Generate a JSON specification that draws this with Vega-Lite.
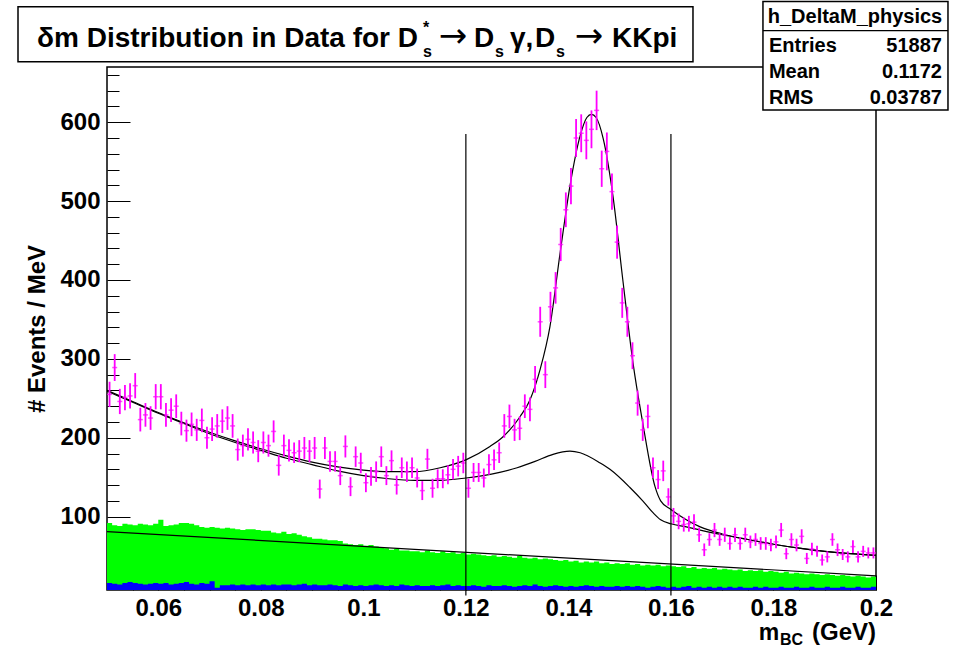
{
"$schema": "https://vega.github.io/schema/vega-lite/v6.json",
"width": 769, "height": 523,
"autosize": {"type": "none"},
"padding": {"left": 107, "top": 67, "right": 87, "bottom": 57},
"background": "white",
"config": {
  "view": {"stroke": "#000", "strokeWidth": 1.5},
  "axis": {"grid": false, "domain": false, "zindex": 1, "labelFont": "Liberation Sans", "labelFontWeight": "bold", "labelFontSize": 24, "labelColor": "#000", "tickColor": "#000", "tickWidth": 1, "titleFont": "Liberation Sans", "titleFontWeight": "bold", "titleFontSize": 24, "titleColor": "#000"},
  "text": {"font": "Liberation Sans", "fontWeight": "bold", "color": "#000"}
},
"datasets": {
  "one": [{}],
  "pts": [
{"x":0.0505,"v":255,"e":16},{"x":0.0515,"v":289,"e":17},{"x":0.0525,"v":246,"e":16},{"x":0.0535,"v":251,"e":16},{"x":0.0545,"v":253,"e":16},{"x":0.0555,"v":266,"e":16},{"x":0.0565,"v":223,"e":15},{"x":0.0575,"v":229,"e":15},{"x":0.0585,"v":225,"e":15},{"x":0.0595,"v":252,"e":16},
{"x":0.0605,"v":252,"e":16},{"x":0.0615,"v":229,"e":15},{"x":0.0625,"v":235,"e":15},{"x":0.0635,"v":240,"e":15},{"x":0.0645,"v":218,"e":15},{"x":0.0655,"v":209,"e":14},{"x":0.0665,"v":217,"e":15},{"x":0.0675,"v":210,"e":14},{"x":0.0685,"v":222,"e":15},{"x":0.0695,"v":200,"e":14},
{"x":0.0705,"v":211,"e":15},{"x":0.0715,"v":215,"e":15},{"x":0.0725,"v":221,"e":15},{"x":0.0735,"v":225,"e":15},{"x":0.0745,"v":215,"e":15},{"x":0.0755,"v":185,"e":14},{"x":0.0765,"v":190,"e":14},{"x":0.0775,"v":198,"e":14},{"x":0.0785,"v":194,"e":14},{"x":0.0795,"v":183,"e":14},
{"x":0.0805,"v":194,"e":14},{"x":0.0815,"v":190,"e":14},{"x":0.0825,"v":208,"e":14},{"x":0.0835,"v":165,"e":13},{"x":0.0845,"v":190,"e":14},{"x":0.0855,"v":184,"e":14},{"x":0.0865,"v":181,"e":13},{"x":0.0875,"v":183,"e":14},{"x":0.0885,"v":187,"e":14},{"x":0.0895,"v":183,"e":14},
{"x":0.0905,"v":187,"e":14},{"x":0.0915,"v":135,"e":12},{"x":0.0925,"v":187,"e":14},{"x":0.0935,"v":170,"e":13},{"x":0.0945,"v":170,"e":13},{"x":0.0955,"v":152,"e":12},{"x":0.0965,"v":189,"e":14},{"x":0.0975,"v":138,"e":12},{"x":0.0985,"v":176,"e":13},{"x":0.0995,"v":168,"e":13},
{"x":0.1005,"v":143,"e":12},{"x":0.1015,"v":151,"e":12},{"x":0.1025,"v":157,"e":13},{"x":0.1035,"v":176,"e":13},{"x":0.1045,"v":152,"e":12},{"x":0.1055,"v":171,"e":13},{"x":0.1065,"v":140,"e":12},{"x":0.1075,"v":162,"e":13},{"x":0.1085,"v":157,"e":13},{"x":0.1095,"v":162,"e":13},
{"x":0.1105,"v":149,"e":12},{"x":0.1115,"v":133,"e":12},{"x":0.1125,"v":173,"e":13},{"x":0.1135,"v":136,"e":12},{"x":0.1145,"v":148,"e":12},{"x":0.1155,"v":148,"e":12},{"x":0.1165,"v":153,"e":12},{"x":0.1175,"v":160,"e":13},{"x":0.1185,"v":164,"e":13},{"x":0.1195,"v":168,"e":13},
{"x":0.1205,"v":136,"e":12},{"x":0.1215,"v":156,"e":12},{"x":0.1225,"v":156,"e":12},{"x":0.1235,"v":149,"e":12},{"x":0.1245,"v":166,"e":13},{"x":0.1255,"v":172,"e":13},{"x":0.1265,"v":181,"e":13},{"x":0.1275,"v":215,"e":15},{"x":0.1285,"v":227,"e":15},{"x":0.1295,"v":210,"e":14},
{"x":0.1305,"v":212,"e":15},{"x":0.1315,"v":240,"e":15},{"x":0.1325,"v":236,"e":15},{"x":0.1335,"v":274,"e":17},{"x":0.1345,"v":347,"e":19},{"x":0.1355,"v":280,"e":17},{"x":0.1365,"v":366,"e":19},{"x":0.1375,"v":390,"e":20},{"x":0.1385,"v":445,"e":21},{"x":0.1395,"v":489,"e":22},
{"x":0.1405,"v":519,"e":23},{"x":0.1415,"v":580,"e":24},{"x":0.1425,"v":586,"e":24},{"x":0.1435,"v":577,"e":24},{"x":0.1445,"v":591,"e":24},{"x":0.1455,"v":615,"e":25},{"x":0.1465,"v":541,"e":23},{"x":0.1475,"v":563,"e":24},{"x":0.1485,"v":512,"e":23},{"x":0.1495,"v":448,"e":21},
{"x":0.1505,"v":371,"e":19},{"x":0.1515,"v":347,"e":19},{"x":0.1525,"v":304,"e":17},{"x":0.1535,"v":244,"e":16},{"x":0.1545,"v":210,"e":14},{"x":0.1555,"v":227,"e":15},{"x":0.1565,"v":162,"e":13},{"x":0.1575,"v":147,"e":12},{"x":0.1585,"v":158,"e":13},{"x":0.1595,"v":125,"e":11},
{"x":0.1605,"v":101,"e":10},{"x":0.1615,"v":94,"e":10},{"x":0.1625,"v":90,"e":9},{"x":0.1635,"v":91,"e":10},{"x":0.1645,"v":93,"e":10},{"x":0.1655,"v":77,"e":9},{"x":0.1665,"v":58,"e":8},{"x":0.1675,"v":71,"e":8},{"x":0.1685,"v":83,"e":9},{"x":0.1695,"v":71,"e":8},
{"x":0.1705,"v":77,"e":9},{"x":0.1715,"v":66,"e":8},{"x":0.1725,"v":77,"e":9},{"x":0.1735,"v":66,"e":8},{"x":0.1745,"v":77,"e":9},{"x":0.1755,"v":68,"e":8},{"x":0.1765,"v":71,"e":8},{"x":0.1775,"v":66,"e":8},{"x":0.1785,"v":66,"e":8},{"x":0.1795,"v":64,"e":8},
{"x":0.1805,"v":68,"e":8},{"x":0.1815,"v":83,"e":9},{"x":0.1825,"v":53,"e":7},{"x":0.1835,"v":71,"e":8},{"x":0.1845,"v":64,"e":8},{"x":0.1855,"v":75,"e":9},{"x":0.1865,"v":47,"e":7},{"x":0.1875,"v":59,"e":8},{"x":0.1885,"v":56,"e":7},{"x":0.1895,"v":45,"e":7},
{"x":0.1905,"v":49,"e":7},{"x":0.1915,"v":71,"e":8},{"x":0.1925,"v":58,"e":8},{"x":0.1935,"v":52,"e":7},{"x":0.1945,"v":49,"e":7},{"x":0.1955,"v":62,"e":8},{"x":0.1965,"v":49,"e":7},{"x":0.1975,"v":56,"e":7},{"x":0.1985,"v":54,"e":7},{"x":0.1995,"v":54,"e":7}
  ],
  "hist": [
{"x":0.050,"g":92,"b":16},{"x":0.051,"g":89,"b":15},{"x":0.052,"g":88,"b":14},{"x":0.053,"g":91,"b":16},{"x":0.054,"g":90,"b":17},{"x":0.055,"g":89,"b":16},{"x":0.056,"g":91,"b":15},{"x":0.057,"g":90,"b":14},{"x":0.058,"g":89,"b":15},{"x":0.059,"g":91,"b":16},
{"x":0.060,"g":96,"b":15},{"x":0.061,"g":88,"b":16},{"x":0.062,"g":89,"b":14},{"x":0.063,"g":90,"b":15},{"x":0.064,"g":92,"b":16},{"x":0.065,"g":92,"b":17},{"x":0.066,"g":91,"b":15},{"x":0.067,"g":89,"b":14},{"x":0.068,"g":87,"b":16},{"x":0.069,"g":86,"b":15},
{"x":0.070,"g":87,"b":18},{"x":0.071,"g":86,"b":10},{"x":0.072,"g":85,"b":13},{"x":0.073,"g":86,"b":13},{"x":0.074,"g":85,"b":14},{"x":0.075,"g":84,"b":13},{"x":0.076,"g":83,"b":14},{"x":0.077,"g":84,"b":13},{"x":0.078,"g":84,"b":14},{"x":0.079,"g":83,"b":13},
{"x":0.080,"g":82,"b":14},{"x":0.081,"g":82,"b":13},{"x":0.082,"g":80,"b":14},{"x":0.083,"g":79,"b":13},{"x":0.084,"g":81,"b":14},{"x":0.085,"g":78,"b":14},{"x":0.086,"g":79,"b":13},{"x":0.087,"g":77,"b":14},{"x":0.088,"g":75,"b":15},{"x":0.089,"g":74,"b":13},
{"x":0.090,"g":72,"b":14},{"x":0.091,"g":72,"b":13},{"x":0.092,"g":71,"b":13},{"x":0.093,"g":70,"b":14},{"x":0.094,"g":70,"b":13},{"x":0.095,"g":69,"b":12},{"x":0.096,"g":66,"b":14},{"x":0.097,"g":65,"b":13},{"x":0.098,"g":64,"b":12},{"x":0.099,"g":65,"b":13},
{"x":0.100,"g":63,"b":12},{"x":0.101,"g":64,"b":13},{"x":0.102,"g":62,"b":14},{"x":0.103,"g":61,"b":13},{"x":0.104,"g":60,"b":12},{"x":0.105,"g":58,"b":13},{"x":0.106,"g":59,"b":12},{"x":0.107,"g":57,"b":14},{"x":0.108,"g":57,"b":13},{"x":0.109,"g":56,"b":12},
{"x":0.110,"g":56,"b":13},{"x":0.111,"g":55,"b":12},{"x":0.112,"g":57,"b":12},{"x":0.113,"g":55,"b":13},{"x":0.114,"g":54,"b":12},{"x":0.115,"g":56,"b":13},{"x":0.116,"g":54,"b":14},{"x":0.117,"g":55,"b":12},{"x":0.118,"g":53,"b":13},{"x":0.119,"g":54,"b":12},
{"x":0.120,"g":52,"b":12},{"x":0.121,"g":53,"b":13},{"x":0.122,"g":52,"b":12},{"x":0.123,"g":51,"b":11},{"x":0.124,"g":50,"b":13},{"x":0.125,"g":51,"b":12},{"x":0.126,"g":49,"b":12},{"x":0.127,"g":50,"b":13},{"x":0.128,"g":49,"b":12},{"x":0.129,"g":48,"b":11},
{"x":0.130,"g":50,"b":12},{"x":0.131,"g":48,"b":13},{"x":0.132,"g":47,"b":12},{"x":0.133,"g":48,"b":14},{"x":0.134,"g":46,"b":12},{"x":0.135,"g":47,"b":11},{"x":0.136,"g":46,"b":12},{"x":0.137,"g":45,"b":13},{"x":0.138,"g":44,"b":12},{"x":0.139,"g":45,"b":11},
{"x":0.140,"g":43,"b":12},{"x":0.141,"g":44,"b":11},{"x":0.142,"g":42,"b":12},{"x":0.143,"g":43,"b":13},{"x":0.144,"g":42,"b":12},{"x":0.145,"g":43,"b":11},{"x":0.146,"g":41,"b":12},{"x":0.147,"g":42,"b":11},{"x":0.148,"g":40,"b":11},{"x":0.149,"g":41,"b":12},
{"x":0.150,"g":40,"b":11},{"x":0.151,"g":41,"b":12},{"x":0.152,"g":39,"b":11},{"x":0.153,"g":40,"b":12},{"x":0.154,"g":38,"b":11},{"x":0.155,"g":39,"b":10},{"x":0.156,"g":38,"b":11},{"x":0.157,"g":39,"b":12},{"x":0.158,"g":37,"b":11},{"x":0.159,"g":38,"b":10},
{"x":0.160,"g":37,"b":11},{"x":0.161,"g":36,"b":10},{"x":0.162,"g":37,"b":11},{"x":0.163,"g":35,"b":12},{"x":0.164,"g":36,"b":10},{"x":0.165,"g":34,"b":11},{"x":0.166,"g":35,"b":10},{"x":0.167,"g":34,"b":11},{"x":0.168,"g":35,"b":10},{"x":0.169,"g":33,"b":11},
{"x":0.170,"g":34,"b":10},{"x":0.171,"g":33,"b":11},{"x":0.172,"g":32,"b":10},{"x":0.173,"g":33,"b":11},{"x":0.174,"g":31,"b":10},{"x":0.175,"g":32,"b":10},{"x":0.176,"g":31,"b":11},{"x":0.177,"g":32,"b":10},{"x":0.178,"g":30,"b":11},{"x":0.179,"g":31,"b":10},
{"x":0.180,"g":30,"b":10},{"x":0.181,"g":29,"b":11},{"x":0.182,"g":30,"b":10},{"x":0.183,"g":28,"b":10},{"x":0.184,"g":29,"b":11},{"x":0.185,"g":28,"b":10},{"x":0.186,"g":27,"b":10},{"x":0.187,"g":28,"b":11},{"x":0.188,"g":27,"b":10},{"x":0.189,"g":26,"b":10},
{"x":0.190,"g":27,"b":11},{"x":0.191,"g":26,"b":10},{"x":0.192,"g":25,"b":10},{"x":0.193,"g":26,"b":11},{"x":0.194,"g":25,"b":10},{"x":0.195,"g":24,"b":10},{"x":0.196,"g":25,"b":11},{"x":0.197,"g":24,"b":10},{"x":0.198,"g":23,"b":10},{"x":0.199,"g":24,"b":11},
{"x":0.200,"g":24,"b":11}
  ],
  "fits": [
{"c":"total","x":0.05,"y":260},{"c":"total","x":0.055,"y":246},{"c":"total","x":0.06,"y":232},{"c":"total","x":0.065,"y":219},{"c":"total","x":0.07,"y":207},{"c":"total","x":0.075,"y":196},{"c":"total","x":0.08,"y":186},{"c":"total","x":0.085,"y":177},{"c":"total","x":0.09,"y":169},{"c":"total","x":0.095,"y":163},{"c":"total","x":0.1,"y":159},{"c":"total","x":0.105,"y":157},{"c":"total","x":0.11,"y":157},{"c":"total","x":0.115,"y":162},{"c":"total","x":0.12,"y":172},{"c":"total","x":0.1247,"y":189},{"c":"total","x":0.1272,"y":201},{"c":"total","x":0.1306,"y":227},{"c":"total","x":0.1325,"y":248},{"c":"total","x":0.1345,"y":287},{"c":"total","x":0.1364,"y":341},{"c":"total","x":0.1384,"y":435},{"c":"total","x":0.1403,"y":519},{"c":"total","x":0.1423,"y":583},{"c":"total","x":0.1436,"y":606},{"c":"total","x":0.1445,"y":610},{"c":"total","x":0.1454,"y":606},{"c":"total","x":0.1468,"y":579},{"c":"total","x":0.1487,"y":506},{"c":"total","x":0.1506,"y":401},{"c":"total","x":0.1526,"y":295},{"c":"total","x":0.1545,"y":219},{"c":"total","x":0.1569,"y":138},{"c":"total","x":0.158,"y":120},{"c":"total","x":0.16,"y":109},{"c":"total","x":0.163,"y":96},{"c":"total","x":0.1657,"y":87},{"c":"total","x":0.17,"y":78},{"c":"total","x":0.175,"y":71},{"c":"total","x":0.18,"y":65},{"c":"total","x":0.185,"y":60},{"c":"total","x":0.19,"y":56},{"c":"total","x":0.195,"y":53},{"c":"total","x":0.2,"y":51},
{"c":"bg","x":0.05,"y":259},{"c":"bg","x":0.055,"y":245},{"c":"bg","x":0.06,"y":231},{"c":"bg","x":0.065,"y":218},{"c":"bg","x":0.07,"y":205},{"c":"bg","x":0.075,"y":194},{"c":"bg","x":0.08,"y":184},{"c":"bg","x":0.085,"y":174},{"c":"bg","x":0.09,"y":166},{"c":"bg","x":0.095,"y":158},{"c":"bg","x":0.1,"y":152},{"c":"bg","x":0.105,"y":148},{"c":"bg","x":0.11,"y":146},{"c":"bg","x":0.115,"y":146},{"c":"bg","x":0.12,"y":149},{"c":"bg","x":0.125,"y":154},{"c":"bg","x":0.13,"y":162},{"c":"bg","x":0.1335,"y":170},{"c":"bg","x":0.137,"y":179},{"c":"bg","x":0.1403,"y":183},{"c":"bg","x":0.1423,"y":181},{"c":"bg","x":0.1462,"y":168},{"c":"bg","x":0.1481,"y":160},{"c":"bg","x":0.152,"y":137},{"c":"bg","x":0.1545,"y":120},{"c":"bg","x":0.1565,"y":105},{"c":"bg","x":0.158,"y":96},{"c":"bg","x":0.16,"y":91},{"c":"bg","x":0.163,"y":87},{"c":"bg","x":0.1657,"y":83},{"c":"bg","x":0.17,"y":77},{"c":"bg","x":0.175,"y":71},{"c":"bg","x":0.18,"y":65},{"c":"bg","x":0.185,"y":60},{"c":"bg","x":0.19,"y":56},{"c":"bg","x":0.195,"y":53},{"c":"bg","x":0.2,"y":51},
{"c":"lin","x":0.05,"y":81},{"c":"lin","x":0.2,"y":25}
  ],
  "vlines": [{"x":0.12,"y0":0,"y1":585},{"x":0.16,"y0":0,"y1":585}]
},
"resolve": {"axis": {"x": "independent", "y": "independent"}},
"layer": [
  {"data": {"name": "hist"}, "mark": {"type": "area", "interpolate": "step-after", "color": "#00ff00", "clip": true},
   "encoding": {
     "x": {"field": "x", "type": "quantitative", "scale": {"domain": [0.05, 0.2], "nice": false, "zero": false},
           "axis": {"orient": "bottom", "values": [0.06,0.08,0.1,0.12,0.14,0.16,0.18,0.2], "format": "~g", "ticks": false, "labelPadding": 6, "labelFlush": false, "title": null}},
     "y": {"field": "g", "type": "quantitative", "scale": {"domain": [7, 670], "nice": false, "zero": false},
           "axis": {"orient": "left", "values": [100,200,300,400,500,600], "ticks": false, "labelPadding": 7, "labelFlush": false, "title": "# Events / MeV", "titlePadding": 10}},
     "y2": {"datum": 0}
   }},
  {"data": {"name": "hist"}, "mark": {"type": "area", "interpolate": "step-after", "color": "#0000ff", "clip": true},
   "encoding": {
     "x": {"field": "x", "type": "quantitative", "axis": {"orient": "bottom", "values": [0.06,0.08,0.1,0.12,0.14,0.16,0.18,0.2], "labels": false, "tickSize": -15, "title": null}},
     "y": {"field": "b", "type": "quantitative", "axis": {"orient": "left", "values": [100,200,300,400,500,600], "labels": false, "tickSize": -23, "title": null}},
     "y2": {"datum": 0}
   }},
  {"data": {"name": "fits"}, "mark": {"type": "line", "color": "#000", "strokeWidth": 1.2, "interpolate": "monotone", "clip": true},
   "encoding": {
     "x": {"field": "x", "type": "quantitative", "axis": {"orient": "bottom", "values": [0.055,0.065,0.07,0.075,0.085,0.09,0.095,0.105,0.11,0.115,0.125,0.13,0.135,0.145,0.15,0.155,0.165,0.17,0.175,0.185,0.19,0.195], "labels": false, "tickSize": -8, "title": null}},
     "y": {"field": "y", "type": "quantitative", "axis": {"orient": "left", "values": [20,40,60,80,120,140,160,180,220,240,260,280,320,340,360,380,420,440,460,480,520,540,560,580,620,640,660], "labels": false, "tickSize": -12, "title": null}},
     "detail": {"field": "c"}
   }},
  {"data": {"name": "pts"}, "mark": {"type": "errorbar", "color": "#ff00ff", "thickness": 1.8},
   "encoding": {
     "x": {"field": "x", "type": "quantitative", "axis": null},
     "y": {"field": "v", "type": "quantitative", "axis": null},
     "yError": {"field": "e"}
   }},
  {"data": {"name": "pts"}, "mark": {"type": "tick", "orient": "horizontal", "color": "#ff00ff", "size": 5, "thickness": 1.5},
   "encoding": {
     "x": {"field": "x", "type": "quantitative", "axis": null},
     "y": {"field": "v", "type": "quantitative", "axis": null}
   }},
  {"data": {"name": "vlines"}, "mark": {"type": "rule", "color": "#000", "strokeWidth": 1.2},
   "encoding": {
     "x": {"field": "x", "type": "quantitative", "axis": null},
     "y": {"field": "y0", "type": "quantitative", "axis": null},
     "y2": {"field": "y1"}
   }},
  {"data": {"name": "one"}, "mark": {"type": "rect", "fill": "white", "stroke": "#000", "strokeWidth": 1.5},
   "encoding": {"x": {"datum": 0.03264, "type": "quantitative", "axis": null}, "x2": {"datum": 0.1643}, "y": {"datum": 746.5, "type": "quantitative", "axis": null}, "y2": {"datum": 676.6}}},
  {"data": {"name": "one"}, "mark": {"type": "text", "align": "left", "baseline": "alphabetic", "fontSize": 28},
   "encoding": {"x": {"datum": 0.036347, "type": "quantitative", "axis": null}, "y": {"datum": 695.7, "type": "quantitative", "axis": null}, "text": {"value": "δm Distribution in Data for D"}}},
  {"data": {"name": "one"}, "mark": {"type": "text", "align": "left", "baseline": "alphabetic", "fontSize": 16},
   "encoding": {"x": {"datum": 0.111635, "type": "quantitative", "axis": null}, "y": {"datum": 713.5, "type": "quantitative", "axis": null}, "text": {"value": "*"}}},
  {"data": {"name": "one"}, "mark": {"type": "text", "align": "left", "baseline": "alphabetic", "fontSize": 16},
   "encoding": {"x": {"datum": 0.111635, "type": "quantitative", "axis": null}, "y": {"datum": 683.0, "type": "quantitative", "axis": null}, "text": {"value": "s"}}},
  {"data": {"name": "one"}, "mark": {"type": "text", "align": "center", "baseline": "alphabetic", "fontSize": 34, "font": "DejaVu Sans", "fontWeight": "normal"},
   "encoding": {"x": {"datum": 0.117487, "type": "quantitative", "axis": null}, "y": {"datum": 695.7, "type": "quantitative", "axis": null}, "text": {"value": "→"}}},
  {"data": {"name": "one"}, "mark": {"type": "text", "align": "left", "baseline": "alphabetic", "fontSize": 28},
   "encoding": {"x": {"datum": 0.121583, "type": "quantitative", "axis": null}, "y": {"datum": 695.7, "type": "quantitative", "axis": null}, "text": {"value": "D"}}},
  {"data": {"name": "one"}, "mark": {"type": "text", "align": "left", "baseline": "alphabetic", "fontSize": 16},
   "encoding": {"x": {"datum": 0.125678, "type": "quantitative", "axis": null}, "y": {"datum": 683.0, "type": "quantitative", "axis": null}, "text": {"value": "s"}}},
  {"data": {"name": "one"}, "mark": {"type": "text", "align": "left", "baseline": "alphabetic", "fontSize": 28},
   "encoding": {"x": {"datum": 0.128604, "type": "quantitative", "axis": null}, "y": {"datum": 695.7, "type": "quantitative", "axis": null}, "text": {"value": "γ,"}}},
  {"data": {"name": "one"}, "mark": {"type": "text", "align": "left", "baseline": "alphabetic", "fontSize": 28},
   "encoding": {"x": {"datum": 0.13348, "type": "quantitative", "axis": null}, "y": {"datum": 695.7, "type": "quantitative", "axis": null}, "text": {"value": "D"}}},
  {"data": {"name": "one"}, "mark": {"type": "text", "align": "left", "baseline": "alphabetic", "fontSize": 16},
   "encoding": {"x": {"datum": 0.137576, "type": "quantitative", "axis": null}, "y": {"datum": 683.0, "type": "quantitative", "axis": null}, "text": {"value": "s"}}},
  {"data": {"name": "one"}, "mark": {"type": "text", "align": "center", "baseline": "alphabetic", "fontSize": 34, "font": "DejaVu Sans", "fontWeight": "normal"},
   "encoding": {"x": {"datum": 0.144013, "type": "quantitative", "axis": null}, "y": {"datum": 695.7, "type": "quantitative", "axis": null}, "text": {"value": "→"}}},
  {"data": {"name": "one"}, "mark": {"type": "text", "align": "left", "baseline": "alphabetic", "fontSize": 28},
   "encoding": {"x": {"datum": 0.148498, "type": "quantitative", "axis": null}, "y": {"datum": 695.7, "type": "quantitative", "axis": null}, "text": {"value": "KKpi"}}},
  {"data": {"name": "one"}, "mark": {"type": "rect", "fill": "white", "stroke": "#000", "strokeWidth": 1.5},
   "encoding": {"x": {"datum": 0.17795, "type": "quantitative", "axis": null}, "x2": {"datum": 0.21404}, "y": {"datum": 752.9, "type": "quantitative", "axis": null}, "y2": {"datum": 615.6}}},
  {"data": {"name": "one"}, "mark": {"type": "rule", "color": "#000", "strokeWidth": 1.2},
   "encoding": {"x": {"datum": 0.17795, "type": "quantitative", "axis": null}, "x2": {"datum": 0.21404}, "y": {"datum": 716.0, "type": "quantitative", "axis": null}}},
  {"data": {"name": "one"}, "mark": {"type": "text", "align": "center", "baseline": "alphabetic", "fontSize": 20},
   "encoding": {"x": {"datum": 0.1959, "type": "quantitative", "axis": null}, "y": {"datum": 726.2, "type": "quantitative", "axis": null}, "text": {"value": "h_DeltaM_physics"}}},
  {"data": {"name": "one"}, "mark": {"type": "text", "align": "left", "baseline": "alphabetic", "fontSize": 20},
   "encoding": {"x": {"datum": 0.17912, "type": "quantitative", "axis": null}, "y": {"datum": 689.3, "type": "quantitative", "axis": null}, "text": {"value": "Entries"}}},
  {"data": {"name": "one"}, "mark": {"type": "text", "align": "right", "baseline": "alphabetic", "fontSize": 20},
   "encoding": {"x": {"datum": 0.21287, "type": "quantitative", "axis": null}, "y": {"datum": 689.3, "type": "quantitative", "axis": null}, "text": {"value": "51887"}}},
  {"data": {"name": "one"}, "mark": {"type": "text", "align": "left", "baseline": "alphabetic", "fontSize": 20},
   "encoding": {"x": {"datum": 0.17912, "type": "quantitative", "axis": null}, "y": {"datum": 656.3, "type": "quantitative", "axis": null}, "text": {"value": "Mean"}}},
  {"data": {"name": "one"}, "mark": {"type": "text", "align": "right", "baseline": "alphabetic", "fontSize": 20},
   "encoding": {"x": {"datum": 0.21287, "type": "quantitative", "axis": null}, "y": {"datum": 656.3, "type": "quantitative", "axis": null}, "text": {"value": "0.1172"}}},
  {"data": {"name": "one"}, "mark": {"type": "text", "align": "left", "baseline": "alphabetic", "fontSize": 20},
   "encoding": {"x": {"datum": 0.17912, "type": "quantitative", "axis": null}, "y": {"datum": 623.3, "type": "quantitative", "axis": null}, "text": {"value": "RMS"}}},
  {"data": {"name": "one"}, "mark": {"type": "text", "align": "right", "baseline": "alphabetic", "fontSize": 20},
   "encoding": {"x": {"datum": 0.21287, "type": "quantitative", "axis": null}, "y": {"datum": 623.3, "type": "quantitative", "axis": null}, "text": {"value": "0.03787"}}},
  {"data": {"name": "one"}, "mark": {"type": "text", "align": "left", "baseline": "alphabetic", "fontSize": 23},
   "encoding": {"x": {"datum": 0.17715, "type": "quantitative", "axis": null}, "y": {"datum": -56.5, "type": "quantitative", "axis": null}, "text": {"value": "m"}}},
  {"data": {"name": "one"}, "mark": {"type": "text", "align": "left", "baseline": "alphabetic", "fontSize": 16},
   "encoding": {"x": {"datum": 0.18127, "type": "quantitative", "axis": null}, "y": {"datum": -62.8, "type": "quantitative", "axis": null}, "text": {"value": "BC"}}},
  {"data": {"name": "one"}, "mark": {"type": "text", "align": "right", "baseline": "alphabetic", "fontSize": 24},
   "encoding": {"x": {"datum": 0.2, "type": "quantitative", "axis": null}, "y": {"datum": -56.5, "type": "quantitative", "axis": null}, "text": {"value": "(GeV)"}}}
]
}
